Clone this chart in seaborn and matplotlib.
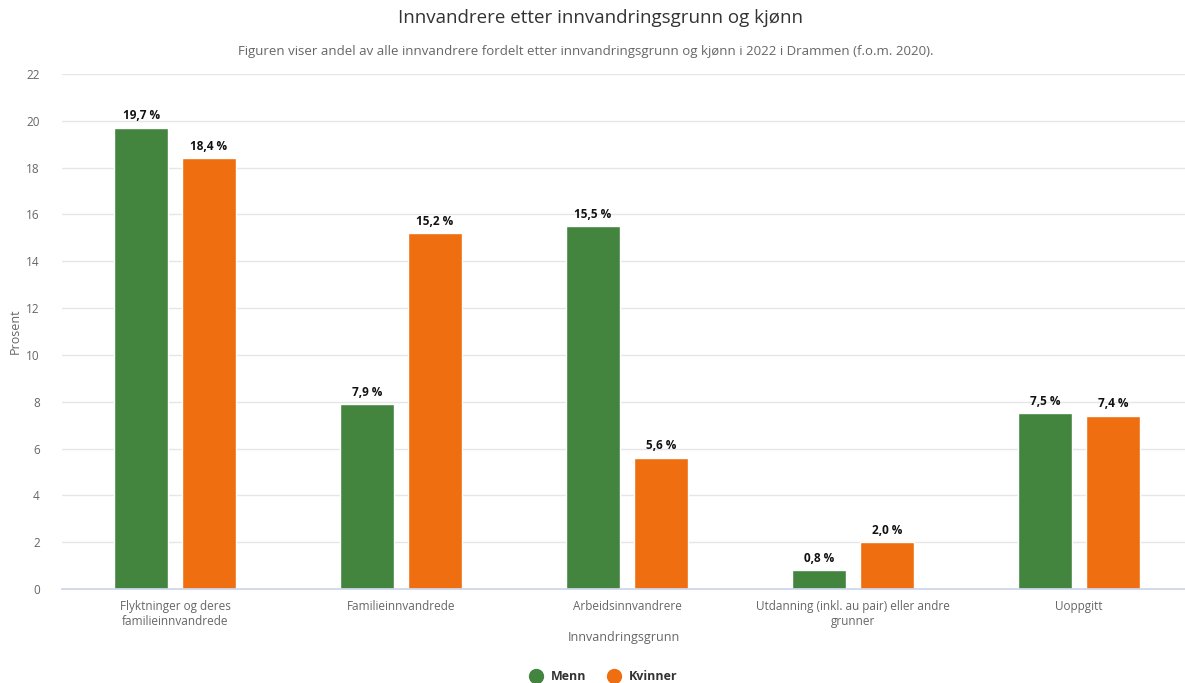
import pandas as pd
import matplotlib.pyplot as plt
import seaborn as sns
from matplotlib.lines import Line2D

# --- data ---
categories = ['Flyktninger og deres\nfamilieinnvandrede', 'Familieinnvandrede', 'Arbeidsinnvandrere',
              'Utdanning (inkl. au pair) eller andre\ngrunner', 'Uoppgitt']
menn = [19.7, 7.9, 15.5, 0.8, 7.5]
kvinner = [18.4, 15.2, 5.6, 2.0, 7.4]
series = ['Menn', 'Kvinner']
colors = ['#43843f', '#ef6e10']
y_ticks = list(range(0, 23, 2))

df = pd.DataFrame({
    'grunn': categories * 2,
    'kjonn': ['Menn'] * len(categories) + ['Kvinner'] * len(categories),
    'prosent': menn + kvinner,
})

sns.set_theme(style='white')
plt.rcParams['font.family'] = ['Liberation Sans Narrow', 'Open Sans', 'DejaVu Sans']

fig = plt.figure(figsize=(11.85, 6.83), dpi=100)
ax = fig.add_axes([62 / 1185, 1 - 589 / 683, 1 - 62 / 1185, (589 - 74) / 683])

sns.barplot(data=df, x='grunn', y='prosent', hue='kjonn', hue_order=series,
            palette=colors, width=0.6, gap=0.2, saturation=1, legend=False, ax=ax)

for cont in ax.containers:
    ax.bar_label(cont, labels=[f'{v:.1f} %'.replace('.', ',') for v in cont.datavalues],
                 padding=4, fontsize=8.5, fontweight='bold', color='#111111')

ax.set_ylim(0, 22)
ax.set_xlim(-0.5, -0.5 + (1185 - 62) / 226)
ax.set_yticks(y_ticks)
ax.grid(axis='y', color='#e6e6e6', linewidth=1)
ax.set_axisbelow(True)
for s in ['top', 'right', 'left']:
    ax.spines[s].set_visible(False)
ax.spines['bottom'].set_color('#ccd6eb')
ax.tick_params(axis='y', length=0, pad=16, labelsize=8.5, labelcolor='#666666')
ax.tick_params(axis='x', length=0, pad=8, labelsize=8.5, labelcolor='#666666')
ax.set_xlabel('Innvandringsgrunn', fontsize=9, color='#666666')
ax.set_ylabel('Prosent', fontsize=9, color='#666666')
ax.xaxis.set_label_coords(0.5, (589 - 638) / 515, transform=ax.transAxes)
ax.yaxis.set_label_coords((15 - 62) / 1123, 0.5, transform=ax.transAxes)
ax.xaxis.label.set_va('center')
ax.yaxis.label.set_va('center')

fig.text(0.507, 0.973, 'Innvandrere etter innvandringsgrunn og kjønn',
         ha='center', va='center', fontsize=13.5, color='#333333')
fig.text(0.494, 0.924, 'Figuren viser andel av alle innvandrere fordelt etter innvandringsgrunn og kjønn i 2022 i Drammen (f.o.m. 2020).',
         ha='center', va='center', fontsize=9.5, color='#666666')

handles = [Line2D([0], [0], marker='o', linestyle='', markersize=10, color=c) for c in colors]
leg = fig.legend(handles, series, loc='center', bbox_to_anchor=(0.507, 0.009), ncol=2,
                 frameon=False, handletextpad=0.2, columnspacing=1.2,
                 prop={'size': 9, 'weight': 'bold'})
for t in leg.get_texts():
    t.set_color('#333333')

fig.savefig('out.png', dpi=100)
